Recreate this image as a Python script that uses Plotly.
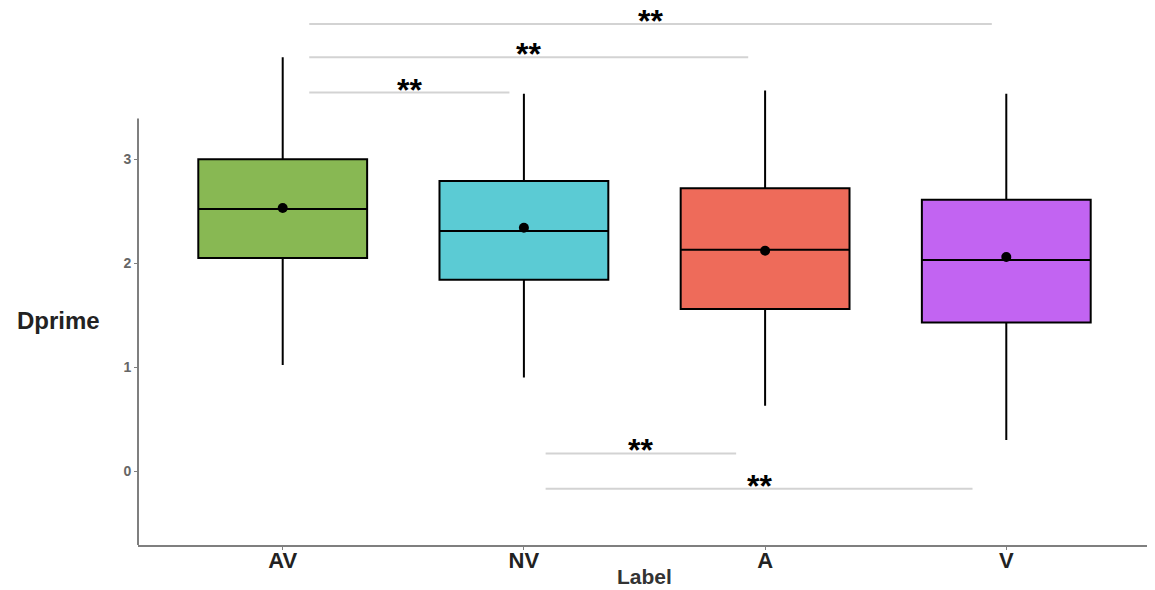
import plotly.graph_objects as go

categories = ["AV", "NV", "A", "V"]
q1 = [2.05, 1.84, 1.56, 1.43]
median = [2.52, 2.31, 2.13, 2.03]
q3 = [3.00, 2.79, 2.72, 2.61]
lower = [1.02, 0.90, 0.63, 0.30]
upper = [3.98, 3.63, 3.66, 3.63]
means = [2.53, 2.34, 2.12, 2.06]
colors = ["#88B853", "#5BCBD4", "#EE6B5A", "#C264F2"]

# significance brackets: (start, end) in category index units, height in data units
sig_start = [0.11, 0.11, 0.11, 1.09, 1.09]
sig_end = [2.94, 1.93, 0.94, 1.88, 2.86]
sig_y = [4.30, 3.98, 3.64, 0.17, -0.17]
sig_label = ["**", "**", "**", "**", "**"]

y_ticks = [0, 1, 2, 3]
y_axis_min, y_axis_max = -0.71, 3.39

fig = go.Figure()
for i, c in enumerate(categories):
    fig.add_trace(go.Box(
        x=[c], q1=[q1[i]], median=[median[i]], q3=[q3[i]],
        lowerfence=[lower[i]], upperfence=[upper[i]],
        fillcolor=colors[i], line=dict(color="black", width=2),
        whiskerwidth=0, width=0.7, boxpoints=False, showlegend=False,
        hoverinfo="skip",
    ))
fig.add_trace(go.Scatter(x=categories, y=means, mode="markers",
                         marker=dict(color="black", size=10), showlegend=False))

shapes = []
annotations = []
for s, e, y, lab in zip(sig_start, sig_end, sig_y, sig_label):
    shapes.append(dict(type="line", xref="x", yref="y", x0=s, x1=e, y0=y, y1=y,
                       line=dict(color="#d3d3d3", width=2)))
    annotations.append(dict(x=(s + e) / 2, y=y, xref="x", yref="y", text="<b>%s</b>" % lab,
                            showarrow=False, yanchor="bottom", yshift=-17,
                            font=dict(size=32, color="black", family="Liberation Sans")))
shapes.append(dict(type="line", xref="paper", yref="y", x0=0, x1=0,
                   y0=y_axis_min, y1=y_axis_max, line=dict(color="#7f7f7f", width=2)))
annotations.append(dict(x=0.5, y=0, xref="paper", yref="paper", text="<b>Label</b>",
                        showarrow=False, yanchor="top", yshift=-18,
                        font=dict(size=21, color="#333333")))
annotations.append(dict(x=0, y=1.45, xref="paper", yref="y", text="<b>Dprime</b>",
                        showarrow=False, xanchor="center", xshift=-80,
                        font=dict(size=24, color="#222222")))

# page body has an 8px default margin; compensate so the plot lands in place
fig.update_layout(
    width=1147, height=582,
    margin=dict(l=130, r=4, t=2, b=45),
    plot_bgcolor="white", paper_bgcolor="white",
    font=dict(family="Liberation Sans"),
    shapes=shapes, annotations=annotations,
    xaxis=dict(type="category", categoryorder="array", categoryarray=categories,
               range=[-0.6, 3.6], showline=True, linecolor="#7f7f7f", linewidth=2,
               ticks="outside", ticklen=3, tickcolor="#7f7f7f", showgrid=False,
               zeroline=False, tickfont=dict(size=22, color="#222222"),
               ticklabelstandoff=-8,
               tickvals=categories, ticktext=["<b>%s</b>" % c for c in categories]),
    yaxis=dict(range=[-0.71, -0.71 + 535 / 104], showline=False, showgrid=False,
               zeroline=False, ticks="outside", ticklen=3, tickcolor="#7f7f7f",
               tickvals=y_ticks, ticktext=["<b>%d</b>" % t for t in y_ticks],
               tickfont=dict(size=14, color="#666666")),
)
fig.write_html("out.html")
